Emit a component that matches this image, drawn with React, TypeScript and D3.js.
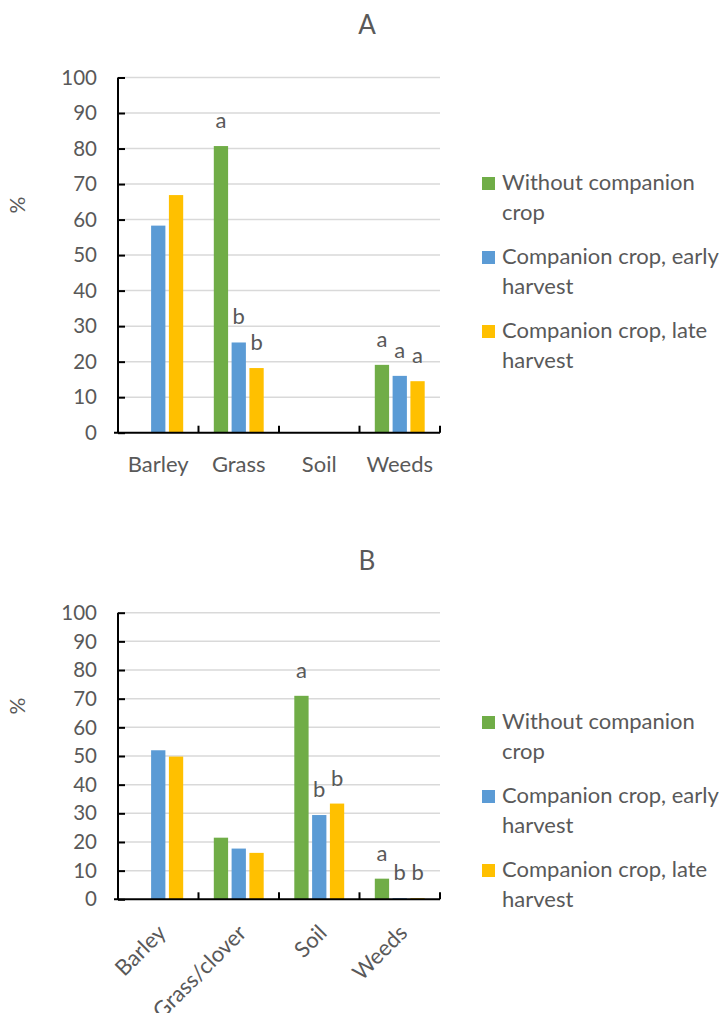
import React, { useEffect, useRef } from 'react';
import * as d3 from 'd3';

const seriesNames = ['Without companion crop', 'Companion crop, early harvest', 'Companion crop, late harvest'];
const seriesColors = ['#70AD47', '#5B9BD5', '#FFC000'];
const legendLines = [['Without companion', 'crop'], ['Companion crop, early', 'harvest'], ['Companion crop, late', 'harvest']];
const yTicks = [0, 10, 20, 30, 40, 50, 60, 70, 80, 90, 100];

// panel A
const categoriesA = ['Barley', 'Grass', 'Soil', 'Weeds'];
const withoutA = [null, 80.7, null, 19.1];
const earlyA = [58.3, 25.4, null, 16.0];
const lateA = [66.9, 18.2, null, 14.5];
const lettersWithoutA = [null, 'a', null, 'a'];
const lettersEarlyA = [null, 'b', null, 'a'];
const lettersLateA = [null, 'b', null, 'a'];

// panel B
const categoriesB = ['Barley', 'Grass/clover', 'Soil', 'Weeds'];
const withoutB = [null, 21.5, 71.0, 7.2];
const earlyB = [52.0, 17.7, 29.4, 0.4];
const lateB = [49.8, 16.2, 33.4, 0.4];
const lettersWithoutB = [null, null, 'a', 'a'];
const lettersEarlyB = [null, null, 'b', 'b'];
const lettersLateB = [null, null, 'b', 'b'];

const FONT = 'Lato, "Open Sans", sans-serif';
const TEXT = '#595959';

const App = () => {
  const svgRef = useRef(null);

  useEffect(() => {
    const svg = d3.select(svgRef.current);
    svg.selectAll('*').remove();

    const drawPanel = (opts) => {
      const { title, titleY, top, bottom, categories, values, letters, rotate, legendTop } = opts;
      const left = 118, right = 440;
      const g = svg.append('g');

      const x = d3.scaleBand().domain(categories).range([left, right]).padding(0);
      const inner = d3.scaleBand().domain(d3.range(3)).range([0, x.bandwidth()])
        .paddingInner(0.197).paddingOuter(0.86);
      const y = d3.scaleLinear().domain([0, 100]).range([bottom, top]);

      // title
      g.append('text').attr('x', 367).attr('y', titleY).attr('text-anchor', 'middle')
        .style('font-size', '26px').style('fill', TEXT).text(title);

      // gridlines
      g.selectAll('.grid').data(yTicks.slice(1)).enter().append('line')
        .attr('x1', left).attr('x2', right)
        .attr('y1', d => y(d)).attr('y2', d => y(d))
        .attr('stroke', '#D9D9D9').attr('stroke-width', 1.5);

      // bars
      values.forEach((vals, si) => {
        vals.forEach((v, ci) => {
          if (v == null) return;
          const bx = x(categories[ci]) + inner(si);
          g.append('rect')
            .attr('x', bx).attr('y', y(v))
            .attr('width', inner.bandwidth()).attr('height', y(0) - y(v))
            .attr('fill', seriesColors[si]);
          const l = letters[si][ci];
          if (l) {
            g.append('text').attr('x', bx + inner.bandwidth() / 2).attr('y', y(v) - 18)
              .attr('text-anchor', 'middle').style('font-size', '22px').style('fill', TEXT).text(l);
          }
        });
      });

      // y axis
      const yAxis = g.append('g').attr('transform', `translate(${left},0)`)
        .call(d3.axisRight(y).tickValues(yTicks).tickSize(7).tickFormat(() => ''));
      yAxis.select('.domain').attr('stroke', '#000').attr('stroke-width', 2).attr('d', `M0,${top}V${bottom}`);
      yAxis.selectAll('.tick line').attr('stroke', '#000').attr('stroke-width', 2);
      g.selectAll('.ylab').data(yTicks).enter().append('text')
        .attr('x', 97).attr('y', d => y(d)).attr('dy', '0.35em').attr('text-anchor', 'end')
        .style('font-size', '20.5px').style('fill', TEXT).text(d => d);

      // x axis
      const edges = categories.map(c => x(c)).concat([right]).slice(1);
      g.append('line').attr('x1', left - 4).attr('x2', right).attr('y1', bottom).attr('y2', bottom)
        .attr('stroke', '#000').attr('stroke-width', 2);
      g.selectAll('.xt').data(edges).enter().append('line')
        .attr('x1', d => d).attr('x2', d => d).attr('y1', bottom).attr('y2', bottom - 7)
        .attr('stroke', '#000').attr('stroke-width', 2);

      if (!rotate) {
        g.selectAll('.xlab').data(categories).enter().append('text')
          .attr('x', d => x(d) + x.bandwidth() / 2).attr('y', bottom + 39)
          .attr('text-anchor', 'middle').style('font-size', '22px').style('fill', TEXT).text(d => d);
      } else {
        g.selectAll('.xlab').data(categories).enter().append('text')
          .attr('transform', d => `translate(${x(d) + x.bandwidth() / 2 + 9},${bottom + 35}) rotate(-45)`)
          .attr('text-anchor', 'end')
          .style('font-size', '22px').style('fill', TEXT).text(d => d);
      }

      // % label
      const mid = (top + bottom) / 2;
      g.append('text').attr('transform', `translate(25,${mid - 50}) rotate(-90)`)
        .attr('text-anchor', 'middle').style('font-size', '21px').style('fill', TEXT).text('%');

      // legend
      seriesNames.forEach((name, i) => {
        const ly = legendTop + i * 74;
        g.append('rect').attr('x', 482).attr('y', ly - 13).attr('width', 13).attr('height', 13)
          .attr('fill', seriesColors[i]);
        const t = g.append('text').attr('x', 502).attr('y', ly).style('font-size', '22px').style('fill', TEXT);
        legendLines[i].forEach((line, k) => {
          t.append('tspan').attr('x', 502).attr('dy', k === 0 ? 0 : 30).text(line);
        });
      });
    };

    drawPanel({
      title: 'A', titleY: 34, top: 77.5, bottom: 432.7, categories: categoriesA,
      values: [withoutA, earlyA, lateA], letters: [lettersWithoutA, lettersEarlyA, lettersLateA],
      rotate: false, legendTop: 190
    });
    drawPanel({
      title: 'B', titleY: 570, top: 612.7, bottom: 899.3, categories: categoriesB,
      values: [withoutB, earlyB, lateB], letters: [lettersWithoutB, lettersEarlyB, lettersLateB],
      rotate: true, legendTop: 729
    });
  }, []);

  return (
    <svg ref={svgRef} width={724} height={1013}
      style={{ position: 'absolute', left: 0, top: 0, fontFamily: FONT, background: '#fff' }} />
  );
};

export default App;
